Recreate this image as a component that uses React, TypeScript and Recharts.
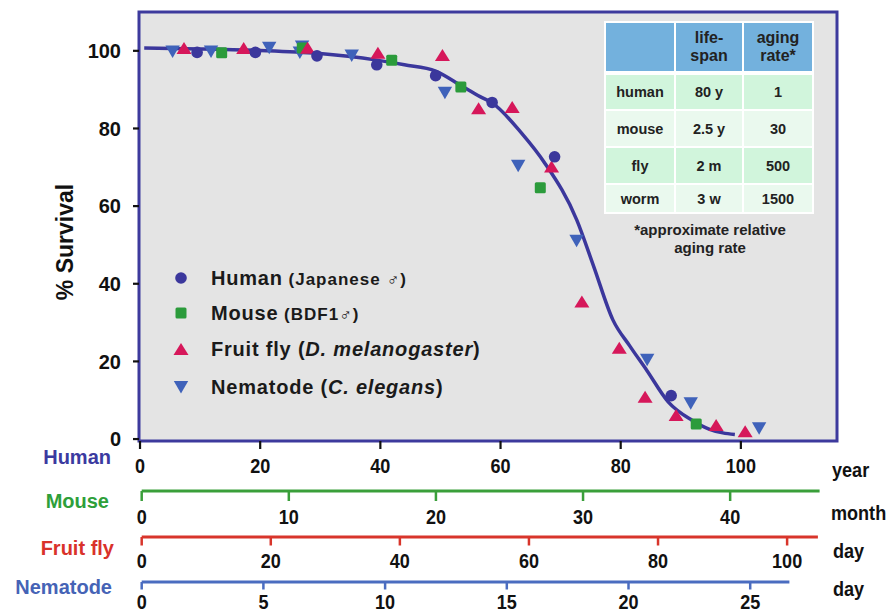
import React from 'react';
import { ComposedChart, XAxis, YAxis, Scatter, Line, ReferenceArea } from 'recharts';

// ---- data (native units of each species) ----
const humanAgeYears = [9.5, 19.2, 29.45, 39.4, 49.2, 58.6, 69.0, 88.4];
const humanSurvival = [99.6, 99.6, 98.7, 96.4, 93.6, 86.7, 72.7, 11.2];

const mouseAgeMonths = [5.44, 10.92, 17.0, 21.7, 27.1, 37.7];
const mouseSurvival = [99.5, 100.7, 97.6, 90.7, 64.7, 3.9];

const flyAgeDays = [6.55, 15.8, 25.7, 36.6, 46.6, 52.2, 57.4, 63.5, 68.2, 74.0, 78.0, 82.8, 89.0, 93.5];
const flySurvival = [100.7, 100.7, 100.8, 99.5, 98.9, 85.2, 85.5, 70.2, 35.4, 23.5, 10.9, 6.2, 3.6, 2.0];

const wormAgeDays = [1.27, 2.85, 5.24, 6.5, 6.59, 8.63, 12.46, 15.47, 17.87, 20.77, 22.56, 25.37];
const wormSurvival = [99.8, 99.8, 100.8, 99.6, 101.1, 98.8, 89.2, 70.4, 51.1, 20.4, 9.2, 2.8];

// fitted survival curve, in human years
const curveYears = [0.7, 10, 20, 29.5, 39.4, 44, 49.2, 53.6, 56.6, 58.6, 63.5, 67.4, 72.7, 75.5, 78.7, 81.5, 84.3, 87.9, 91.8, 94.8, 97, 99];
const curveSurvival = [100.7, 100.5, 100.1, 99.35, 97.6, 96.4, 94.8, 90.9, 88.2, 86.6, 78.8, 71, 56.4, 44.5, 30.7, 24.0, 17.8, 9.6, 4.9, 2.5, 1.6, 1.2];

const survivalTicks = [0, 20, 40, 60, 80, 100];
const humanTicks = [0, 20, 40, 60, 80, 100];
const mouseTicks = [0, 10, 20, 30, 40];
const flyTicks = [0, 20, 40, 60, 80, 100];
const wormTicks = [0, 5, 10, 15, 20, 25];

const tableHeader = ['', 'life-\nspan', 'aging\nrate*'];
const tableSpecies = ['human', 'mouse', 'fly', 'worm'];
const tableLifespan = ['80 y', '2.5 y', '2 m', '3 w'];
const tableAgingRate = ['1', '30', '500', '1500'];

// ---- styles ----
const HUMAN_C = '#3b379c';
const MOUSE_C = '#2b9b3b';
const FLY_C = '#d6175a';
const WORM_C = '#3f62ba';
const FRAME_C = '#3d3a9d';
const SANS = "'Liberation Sans', Arial, sans-serif";
const SQUEEZE = 0.86;

const zip = (xs: number[], ys: number[]) => xs.map((x, i) => ({ x, y: ys[i] }));
const humanData = zip(humanAgeYears, humanSurvival);
const mouseData = zip(mouseAgeMonths, mouseSurvival);
const flyData = zip(flyAgeDays, flySurvival);
const wormData = zip(wormAgeDays, wormSurvival);
const curveData = zip(curveYears, curveSurvival);

const CircleShape = (p: any) => <circle cx={p.cx} cy={p.cy} r={5.8} fill={HUMAN_C} />;
const SquareShape = (p: any) => (
  <rect x={p.cx - 5.5} y={p.cy - 5.5} width={11} height={11} rx={1.5} fill={MOUSE_C} />
);
const UpShape = (p: any) => (
  <path d={`M${p.cx},${p.cy - 6} L${p.cx + 7.5},${p.cy + 6} L${p.cx - 7.5},${p.cy + 6} Z`} fill={FLY_C} />
);
const DownShape = (p: any) => (
  <path d={`M${p.cx - 7.2},${p.cy - 6} L${p.cx + 7.2},${p.cy - 6} L${p.cx},${p.cy + 6.5} Z`} fill={WORM_C} />
);

// condensed bold tick label
const NarrowTick = (props: any) => {
  const { x, y, payload } = props;
  return (
    <g transform={`translate(${x},${y}) scale(${SQUEEZE},1)`}>
      <text x={0} y={0} dy="0.71em" textAnchor="middle" fill="#111" fontSize={21} fontWeight="bold" fontFamily={SANS}>
        {payload.value}
      </text>
    </g>
  );
};

const legendItems = [
  { shape: 'circle', name: 'Human', parts: [{ t: ' (Japanese ♂)', small: true }] },
  { shape: 'square', name: 'Mouse', parts: [{ t: ' (BDF1♂)', small: true }] },
  { shape: 'up', name: 'Fruit fly', parts: [{ t: ' (' }, { t: 'D. melanogaster', it: true }, { t: ')' }] },
  { shape: 'down', name: 'Nematode', parts: [{ t: ' (' }, { t: 'C. elegans', it: true }, { t: ')' }] },
];
const legendRowY = [278.3, 313.3, 349.3, 386.7];

const LegendMarker = ({ shape }: { shape: string }) => (
  <svg width={20} height={20} style={{ position: 'absolute', left: 171, top: -10 }}>
    {shape === 'circle' && <CircleShape cx={10} cy={10} />}
    {shape === 'square' && <SquareShape cx={10} cy={10} />}
    {shape === 'up' && <UpShape cx={10} cy={10} />}
    {shape === 'down' && <DownShape cx={10} cy={10} />}
  </svg>
);

function UnitAxis({ lineY, end, domain, ticks, color, tickSize, tickMargin }: any) {
  return (
    <div style={{ position: 'absolute', left: 0, top: lineY - 10 }}>
      <ComposedChart width={891} height={50} data={[]} margin={{ top: 0, right: 891 - end, bottom: 0, left: 141.7 }}>
        <XAxis
          type="number"
          dataKey="x"
          domain={domain}
          ticks={ticks}
          interval={0}
          allowDataOverflow
          height={40}
          axisLine={{ stroke: color, strokeWidth: 3 }}
          tickLine={{ stroke: color, strokeWidth: 2.5 }}
          tickSize={tickSize}
          tickMargin={tickMargin}
          tick={<NarrowTick />}
        />
        <YAxis hide domain={[0, 1]} />
      </ComposedChart>
    </div>
  );
}

const sideLabel = (text: string, color: string, right: number, cy: number) => (
  <div
    key={text}
    style={{
      position: 'absolute', left: right - 200, width: 200, top: cy - 12, height: 24, lineHeight: '24px',
      textAlign: 'right', color, fontFamily: SANS, fontWeight: 'bold', fontSize: 20,
    }}
  >
    {text}
  </div>
);
const unitLabel = (text: string, left: number, cy: number) => (
  <div
    key={text + cy}
    style={{
      position: 'absolute', left, top: cy - 13, height: 26, lineHeight: '26px', whiteSpace: 'nowrap',
      color: '#111', fontFamily: SANS, fontWeight: 'bold', fontSize: 21,
      transform: `scaleX(${SQUEEZE})`, transformOrigin: 'left center',
    }}
  >
    {text}
  </div>
);

const rowBg = ['#d1f5dc', '#eaf9ee', '#d1f5dc', '#eaf9ee'];
const rowH = [34, 35, 35, 27];

export default function App() {
  return (
    <div style={{ position: 'absolute', left: 0, top: 0, width: 891, height: 610, background: '#fff', overflow: 'hidden' }}>
      <ComposedChart width={891} height={610} margin={{ top: 12, right: 54, bottom: 139, left: 0 }}>
        <XAxis
          xAxisId="human"
          type="number"
          dataKey="x"
          domain={[-0.17, 116]}
          ticks={humanTicks}
          interval={0}
          allowDataOverflow
          height={30}
          axisLine={false}
          tickLine={{ stroke: '#111', strokeWidth: 2.2 }}
          tickSize={8}
          tickMargin={9}
          tick={<NarrowTick />}
        />
        <XAxis xAxisId="mouse" hide height={0} type="number" dataKey="x" domain={[-0.18, 47.27]} allowDataOverflow />
        <XAxis xAxisId="fly" hide height={0} type="number" dataKey="x" domain={[-0.42, 107.73]} allowDataOverflow />
        <XAxis xAxisId="worm" hide height={0} type="number" dataKey="x" domain={[-0.11, 28.57]} allowDataOverflow />
        <YAxis
          type="number"
          dataKey="y"
          domain={[-0.5, 110]}
          ticks={survivalTicks}
          interval={0}
          allowDataOverflow
          width={139}
          axisLine={false}
          tickLine={{ stroke: '#111', strokeWidth: 2.2 }}
          tickSize={6}
          tickMargin={12}
          tick={{ fill: '#111', fontSize: 20, fontWeight: 'bold', fontFamily: SANS }}
        />
        <ReferenceArea
          xAxisId="human"
          x1={-0.17}
          x2={116}
          y1={-0.5}
          y2={110}
          fill="#e4e4e4"
          fillOpacity={1}
          stroke={FRAME_C}
          strokeWidth={3}
        />
        <Line
          xAxisId="human"
          data={curveData}
          dataKey="y"
          type="monotone"
          stroke={HUMAN_C}
          strokeWidth={3.5}
          dot={false}
          activeDot={false}
          isAnimationActive={false}
        />
        <Scatter xAxisId="worm" data={wormData} dataKey="y" shape={DownShape} isAnimationActive={false} />
        <Scatter xAxisId="mouse" data={mouseData} dataKey="y" shape={SquareShape} isAnimationActive={false} />
        <Scatter xAxisId="fly" data={flyData} dataKey="y" shape={UpShape} isAnimationActive={false} />
        <Scatter xAxisId="human" data={humanData} dataKey="y" shape={CircleShape} isAnimationActive={false} />
      </ComposedChart>

      <UnitAxis lineY={491.3} end={819.6} domain={[0, 46.08]} ticks={mouseTicks} color="#3a9f3a" tickSize={10} tickMargin={8} />
      <UnitAxis lineY={536.7} end={817.9} domain={[0, 104.77]} ticks={flyTicks} color="#d8352b" tickSize={8.5} tickMargin={8} />
      <UnitAxis lineY={581.7} end={789.4} domain={[0, 26.61]} ticks={wormTicks} color="#4a6cc0" tickSize={7.5} tickMargin={4.5} />

      {/* y-axis title */}
      <div
        style={{
          position: 'absolute', left: 65 - 80, top: 242 - 14, width: 160, height: 28, lineHeight: '28px',
          textAlign: 'center', transform: 'rotate(-90deg)', fontFamily: SANS, fontWeight: 'bold', fontSize: 23, color: '#111',
        }}
      >
        % Survival
      </div>

      {sideLabel('Human', '#3b3aa0', 111, 456.7)}
      {sideLabel('Mouse', '#2e9f3a', 109, 500.7)}
      {sideLabel('Fruit fly', '#d9322a', 114, 548)}
      {sideLabel('Nematode', '#4563b6', 112, 586.7)}
      {unitLabel('year', 832, 470)}
      {unitLabel('month', 831, 513)}
      {unitLabel('day', 833, 551)}
      {unitLabel('day', 833, 589)}

      {/* legend */}
      {legendItems.map((it, i) => (
        <div key={it.name} style={{ position: 'absolute', left: 0, top: legendRowY[i], width: 0, height: 0 }}>
          <LegendMarker shape={it.shape} />
          <div
            style={{
              position: 'absolute', left: 211, top: -13, height: 26, lineHeight: '26px', whiteSpace: 'nowrap',
              fontFamily: SANS, fontWeight: 'bold', fontSize: 20, letterSpacing: 0.8, color: '#1a1a1a',
            }}
          >
            {it.name}
            {it.parts.map((p: any, j: number) => (
              <span key={j} style={{ fontSize: p.small ? 17 : 20, fontStyle: p.it ? 'italic' : 'normal', letterSpacing: p.small ? 1 : 0.8 }}>
                {p.t}
              </span>
            ))}
          </div>
        </div>
      ))}

      {/* lifespan table */}
      <div
        style={{
          position: 'absolute', left: 604, top: 21, display: 'grid', gridTemplateColumns: '68px 66px 68px',
          gridTemplateRows: `50px ${rowH.map((h) => h + 'px').join(' ')}`, gap: 2, padding: 2, background: '#fff',
          fontFamily: SANS, fontWeight: 'bold', color: '#222',
        }}
      >
        {tableHeader.map((h, i) => (
          <div
            key={'h' + i}
            style={{
              background: '#73b1dd', height: 48, display: 'flex', alignItems: 'center', justifyContent: 'center',
              whiteSpace: 'pre-line', textAlign: 'center', fontSize: 16, lineHeight: '17.7px',
            }}
          >
            {h}
          </div>
        ))}
        {tableSpecies.map((s, r) =>
          [s, tableLifespan[r], tableAgingRate[r]].map((c, k) => (
            <div
              key={s + k}
              style={{
                background: rowBg[r], display: 'flex', alignItems: 'center', justifyContent: 'center', fontSize: 14.5,
              }}
            >
              {c}
            </div>
          ))
        )}
      </div>
      <div
        style={{
          position: 'absolute', left: 610, width: 200, top: 221, textAlign: 'center', fontFamily: SANS,
          fontWeight: 'bold', fontSize: 15, lineHeight: '17.7px', color: '#222',
        }}
      >
        *approximate relative
        <br />
        aging rate
      </div>
    </div>
  );
}
